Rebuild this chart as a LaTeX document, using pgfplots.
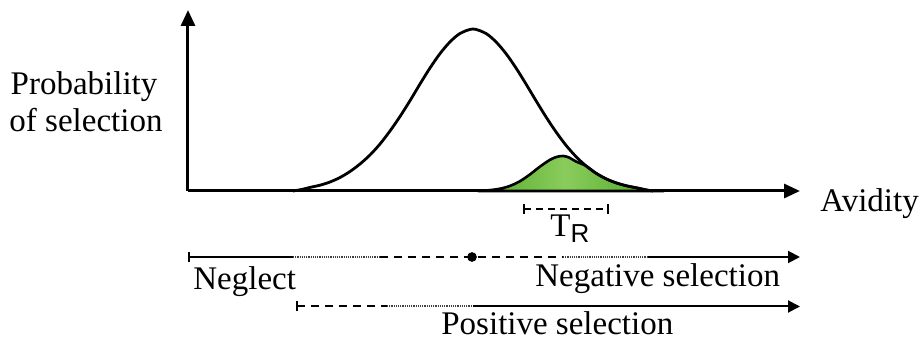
\documentclass[border=0pt]{standalone}
\usepackage{pgfplots}
\pgfplotsset{compat=1.18}
\usepackage{fontspec}
\setmainfont{Liberation Serif}
\newfontfamily\sansR{Liberation Sans}
\usetikzlibrary{arrows.meta}
\definecolor{gdark}{RGB}{82,170,42}
\definecolor{glight}{RGB}{138,204,92}
\newcommand\lab{\fontsize{16.5}{19}\selectfont}

\begin{document}
\begin{tikzpicture}
\begin{axis}[
  x=0.5pt, y=0.5pt,
  xmin=188, xmax=800, ymin=0, ymax=181,
  axis lines=left,
  axis line style={line width=1.5pt, -{Triangle[length=8pt,width=7pt]}},
  xtick=\empty, ytick=\empty,
  clip=false,
  enlargelimits=false,
]
% page extent
\path (axis cs:0,191) rectangle (axis cs:922,-151);

% T_R population (green)
\addplot[draw=black, line width=1.3pt, smooth, tension=0.5,
  left color=gdark, right color=gdark, middle color=glight]
  coordinates {(478,0)(490,0.9)(500,2.3)(510,5.1)(520,9.8)(530,16.6)(540,24.4)
    (550,31.2)(557,34.2)(563,35)(569,33.5)(576,29.5)(586,25.1)(596,17.8)
    (606,12.2)(616,8.2)(626,5.3)(636,3.4)(645,1.5)(652,0)} \closedcycle;

% whole repertoire
\addplot[black, line width=1.4pt, smooth, tension=0.5]
  coordinates {(293,0)(302,1.6)(310,3.6)(320,5.8)(330,9)(340,13.5)(350,19.5)
    (360,27)(370,36)(380,47)(390,60)(400,74.5)(410,90.3)(420,107)(430,123)
    (440,137.4)(450,149.1)(460,157.5)(473,162)(486,157.5)(496,149.1)(506,137.4)
    (516,123)(526,107)(536,90.3)(546,74.1)(556,59.1)(566,45.7)(576,34.4)
    (586,25.1)(596,17.8)(606,12.2)(616,8.2)(626,5.3)(636,3.2)(644,1.4)(653,0)};

% T_R bracket
\addplot[black, line width=0.8pt, dash pattern=on 3.5pt off 2.5pt,
  {Bar[width=5pt]}-{Bar[width=5pt]}] coordinates {(523,-18)(609,-18)};

% negative selection line
\addplot[black, line width=1pt, {Bar[width=5pt]}-] coordinates {(188,-66)(293,-66)};
\addplot[black!75, line width=1pt, dash pattern=on 0.6pt off 0.5pt] coordinates {(293,-66)(380,-66)};
\addplot[black, line width=1pt, dash pattern=on 4pt off 3pt] coordinates {(380,-66)(563,-66)};
\addplot[black!75, line width=1pt, dash pattern=on 0.6pt off 0.5pt] coordinates {(563,-66)(648,-66)};
\addplot[black, line width=1pt, -{Triangle[length=6pt,width=6pt]}] coordinates {(648,-66)(800,-66)};
\addplot[black, only marks, mark=*, mark size=2.2pt] coordinates {(472,-66)};

% positive selection line
\addplot[black, line width=1pt, dash pattern=on 4pt off 3pt, {Bar[width=5pt]}-] coordinates {(296,-115.5)(387,-115.5)};
\addplot[black!75, line width=1pt, dash pattern=on 0.6pt off 0.5pt] coordinates {(387,-115.5)(473,-115.5)};
\addplot[black, line width=1pt, -{Triangle[length=6pt,width=6pt]}] coordinates {(473,-115.5)(800,-115.5)};

% labels
\node[anchor=base, inner sep=0pt, font=\lab] at (axis cs:84,96) {Probability};
\node[anchor=base, inner sep=0pt, font=\lab] at (axis cs:86,59) {of selection};
\node[anchor=base west, inner sep=0pt, font=\lab] at (axis cs:820,-21) {Avidity};
\node[anchor=base west, inner sep=0pt, font=\lab] at (axis cs:550,-46) {T\raisebox{-0.35ex}{\sansR\fontsize{13}{15}\selectfont R}};
\node[anchor=base west, inner sep=0pt, font=\lab] at (axis cs:193,-98) {Neglect};
\node[anchor=base west, inner sep=0pt, font=\lab] at (axis cs:535,-96) {Negative selection};
\node[anchor=base west, inner sep=0pt, font=\lab] at (axis cs:441,-143) {Positive selection};
\end{axis}
\end{tikzpicture}
\end{document}
